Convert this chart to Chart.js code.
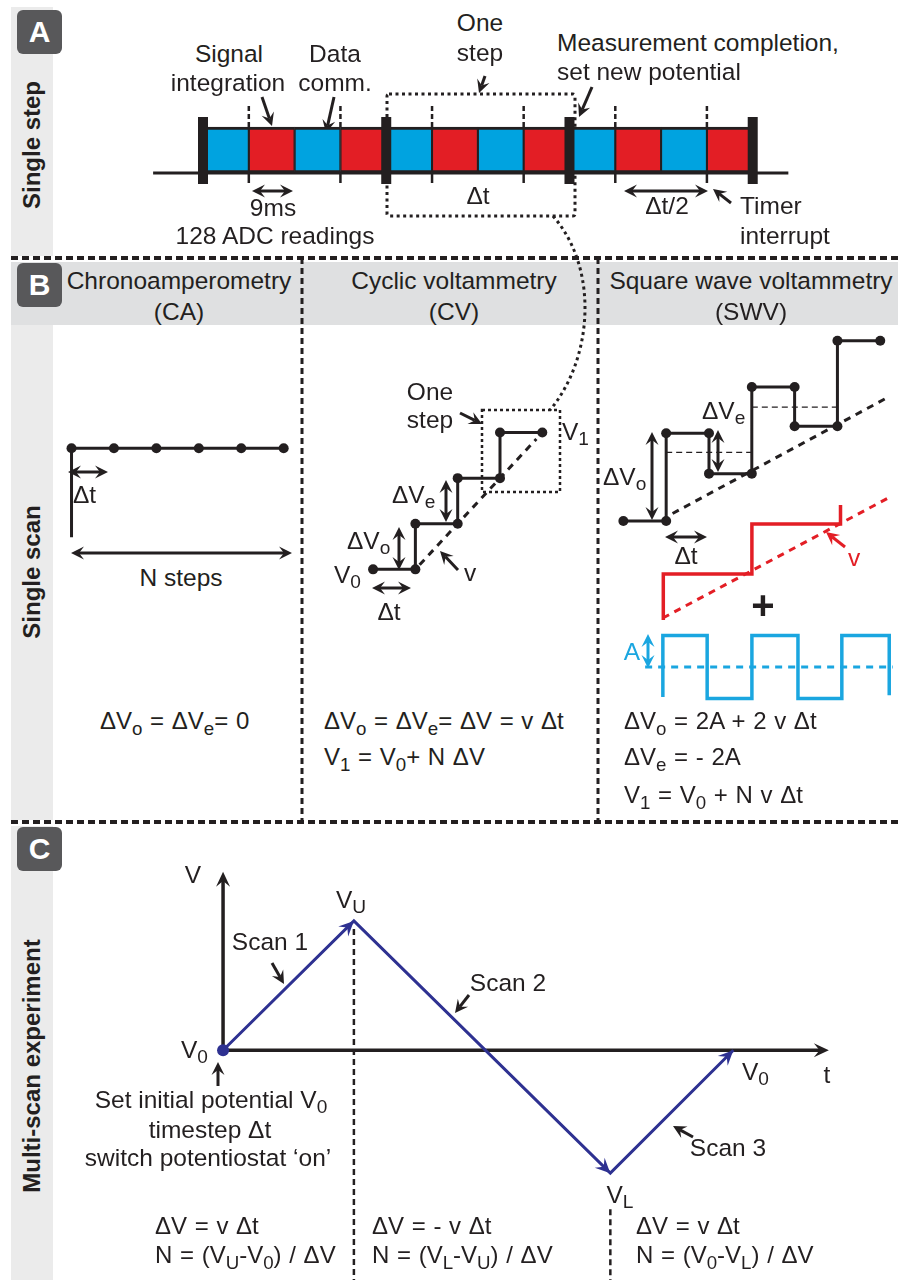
<!DOCTYPE html>
<html>
<head>
<meta charset="utf-8">
<script src="https://cdn.jsdelivr.net/npm/chart.js@4.4.1/dist/chart.umd.min.js"></script>
<style>
body{margin:0;background:#fff;}
#page{position:relative;width:898px;height:1280px;overflow:hidden;font-family:"Liberation Sans",Arial,sans-serif;color:#231f20;}
.bg{position:absolute;}
#ann{position:absolute;left:0;top:0;}
canvas{position:absolute;}
.t{position:absolute;white-space:nowrap;font-size:24.5px;line-height:1;}
.t sub{font-size:0.78em;vertical-align:-0.3em;line-height:0;}
.f{font-size:24px;word-spacing:1px;}
.side{position:absolute;font-weight:bold;font-size:24px;line-height:1;white-space:nowrap;transform:translate(-50%,-50%) rotate(-90deg);}
.box{position:absolute;width:45px;height:44px;background:#58585a;border-radius:6px;color:#fff;font-weight:bold;font-size:30px;text-align:center;line-height:44px;}
</style>
</head>
<body>
<div id="page">
  <div class="bg" style="left:11px;top:7px;width:42px;height:249px;background:#ebebeb"></div>
  <div class="bg" style="left:11px;top:262px;width:887px;height:63px;background:#dfe0e1"></div>
  <div class="bg" style="left:11px;top:325px;width:42px;height:495px;background:#ebebeb"></div>
  <div class="bg" style="left:11px;top:826px;width:42px;height:454px;background:#ebebeb"></div>
  <svg id="ann" width="898" height="1280"></svg>
  <div id="charts"></div>
  <div id="labels"></div>
  <div class="box" style="left:17px;top:10px">A</div>
  <div class="box" style="left:17px;top:263px">B</div>
  <div class="box" style="left:17px;top:827px">C</div>
  <div class="side" style="left:32px;top:145px">Single step</div>
  <div class="side" style="left:32px;top:572px">Single scan</div>
  <div class="side" style="left:32px;top:1066px">Multi-scan experiment</div>
</div>
<script>
// ---- A: readings inside the steps (ms) ----
const segColours = ['blue','red','blue','red','blue','red','blue','red','blue','red','blue','red'];
const segMs = [9,9,9,9,9,9,9,9,9,9,9,9];
const stepMs = [0,36,72,108];
const timerMs = [9,27,45,63,81,99];
const leadMs = [-9.8,115];

// ---- B: single scans (t in steps, V in arbitrary units) ----
const caT = [0,0,1,2,3,4,5];
const caV = [-2,0,0,0,0,0,0];

const cvT = [0,1,1,2,2,3,3,4];
const cvV = [0,0,1,1,2,2,3,3];
const cvRampT = [1.1,3.86];
const cvRampV = [0.1,2.86];

const swvT = [0,1,1,2,2,3,3,4,4,5,5,6];
const swvV = [0,0,3.7,3.7,2,2,5.65,5.65,4,4,7.6,7.6];
const swvMid1T = [1,3], swvMid1V = [2.9,2.9];
const swvMid2T = [3,5], swvMid2V = [4.8,4.8];
const swvRampT = [1.15,6.12], swvRampV = [0.32,5.16];

const redT = [1,1,3,3,5,5];
const redV = [0,1.85,1.85,3.87,3.87,4.64];
const redRampT = [0.99,6.12], redRampV = [0.08,4.96];

const sqT = [0.99,0.99,1.99,1.99,3,3,4.04,4.04,5.03,5.03,6.1,6.1];
const sqV = [-0.95,1,1,-1,-1,1,1,-1,-1,1,1,-0.9];
const sqMidT = [0.59,6.18], sqMidV = [0,0];

// ---- C: multi-scan ----
const cT = [0,1,2.96,3.9];
const cV = [0,1,-0.95,0];
const tAxisMax = 4.63, vAxisMax = 1.38;

const INK = '#231f20', BLUE = '#00a3e0', RED = '#e31e25', CYAN = '#1aa6e0', NAVY = '#2e3191';
const colourOf = {blue: BLUE, red: RED};

// ---------- helpers ----------
function pts(t, v) { return t.map((x, i) => ({x: x, y: v[i]})); }
function line(t, v, o) {
  return Object.assign({data: pts(t, v), showLine: true, fill: false, tension: 0, borderColor: INK,
    borderWidth: 3, pointRadius: 0, pointBackgroundColor: INK, pointBorderWidth: 0, clip: false}, o || {});
}
function addCanvas(box) {
  const c = document.createElement('canvas');
  c.width = box[2]; c.height = box[3];
  c.style.left = box[0] + 'px'; c.style.top = box[1] + 'px';
  document.getElementById('charts').appendChild(c);
  return c;
}
const quiet = {legend: {display: false}, tooltip: {enabled: false}};
// box = [left, top, width, height]; origin/unit say where value 0 sits and how many px one unit is
function place(box, xo, xu, yo, yu, datasets, plugins) {
  return new Chart(addCanvas(box), {
    type: 'scatter',
    data: {datasets: datasets},
    options: {responsive: false, animation: false, events: [], layout: {padding: 0}, plugins: quiet,
      scales: {
        x: {type: 'linear', display: false, min: (box[0] - xo) / xu, max: (box[0] + box[2] - xo) / xu},
        y: {type: 'linear', display: false, min: (yo - box[1] - box[3]) / yu, max: (yo - box[1]) / yu}
      }},
    plugins: plugins || []
  });
}
function canvasHead(ctx, x, y, ux, uy, col) {
  const L = 15, W = 7, px = -uy, py = ux;
  ctx.fillStyle = col;
  ctx.beginPath();
  ctx.moveTo(x, y);
  ctx.lineTo(x - ux * L + px * W, y - uy * L + py * W);
  ctx.lineTo(x - ux * L * 0.62, y - uy * L * 0.62);
  ctx.lineTo(x - ux * L - px * W, y - uy * L - py * W);
  ctx.closePath();
  ctx.fill();
}

// ---------- A: step timeline ----------
const timeline = {
  id: 'timeline',
  beforeDatasetsDraw(ch) {
    const ctx = ch.ctx, xs = ch.scales.x, bar = ch.getDatasetMeta(0).data[0];
    const yb = bar.y + 23;
    ctx.save();
    ctx.strokeStyle = INK; ctx.lineWidth = 3;
    ctx.beginPath();
    ctx.moveTo(xs.getPixelForValue(leadMs[0]), yb);
    ctx.lineTo(xs.getPixelForValue(leadMs[1]), yb);
    ctx.stroke();
    ctx.restore();
  },
  afterDatasetsDraw(ch) {
    const ctx = ch.ctx, xs = ch.scales.x, bar = ch.getDatasetMeta(0).data[0];
    const cy = bar.y;
    ctx.save();
    ctx.fillStyle = INK;
    stepMs.forEach(ms => { const x = xs.getPixelForValue(ms); ctx.fillRect(x - 5, cy - 33, 10, 67); });
    ctx.strokeStyle = INK; ctx.lineWidth = 2.5;
    timerMs.forEach(ms => {
      const x = xs.getPixelForValue(ms);
      ctx.setLineDash([5, 3]);
      ctx.beginPath(); ctx.moveTo(x, cy - 44); ctx.lineTo(x, cy - 23); ctx.stroke();
      ctx.setLineDash([]);
      ctx.beginPath(); ctx.moveTo(x, cy + 23); ctx.lineTo(x, cy + 33); ctx.stroke();
    });
    ctx.restore();
  }
};
(function () {
  const box = [140, 95, 660, 110], xo = 203, xu = 5.09;
  new Chart(addCanvas(box), {
    type: 'bar',
    data: {labels: ['run'], datasets: segMs.map((ms, i) => ({
      data: [ms], backgroundColor: colourOf[segColours[i]], borderColor: INK,
      borderWidth: {top: 3, bottom: 3, left: 1.4, right: 1.4}, borderSkipped: false, barThickness: 46
    }))},
    options: {indexAxis: 'y', responsive: false, animation: false, events: [], layout: {padding: 0}, plugins: quiet,
      scales: {
        x: {stacked: true, display: false, min: (box[0] - xo) / xu, max: (box[0] + box[2] - xo) / xu},
        y: {stacked: true, display: false}
      }},
    plugins: [timeline]
  });
})();

// ---------- B: CA ----------
place([55, 420, 250, 140], 67, 44.2, 445, 48, [
  line(caT, caV, {pointRadius: caT.map((t, i) => i === 0 ? 0 : 5)})
]);

// ---------- B: CV ----------
place([320, 400, 260, 200], 370, 44, 573, 48, [
  line(cvRampT, cvRampV, {borderWidth: 3, borderDash: [7, 6]}),
  line(cvT, cvV, {pointRadius: 5})
]);

// ---------- B: SWV ----------
place([600, 320, 298, 230], 619, 44.3, 525, 24.8, [
  line(swvMid1T, swvMid1V, {borderWidth: 1.2, borderDash: [6, 4]}),
  line(swvMid2T, swvMid2V, {borderWidth: 1.2, borderDash: [6, 4]}),
  line(swvRampT, swvRampV, {borderWidth: 3, borderDash: [7, 6]}),
  line(swvT, swvV, {pointRadius: 5})
]);
place([600, 480, 298, 160], 619, 44.3, 620, 24.8, [
  line(redRampT, redRampV, {borderColor: RED, borderWidth: 3, borderDash: [7, 6]}),
  line(redT, redV, {borderColor: RED, borderWidth: 3.5})
]);
place([600, 615, 298, 100], 619, 44.3, 667, 31.5, [
  line(sqMidT, sqMidV, {borderColor: CYAN, borderWidth: 3, borderDash: [7, 6]}),
  line(sqT, sqV, {borderColor: CYAN, borderWidth: 3.5})
]);

// ---------- C: multi-scan ----------
const scanAxes = {
  id: 'scanAxes',
  beforeDatasetsDraw(ch) {
    const ctx = ch.ctx, x = ch.scales.x, y = ch.scales.y;
    const x0 = x.getPixelForValue(0), y0 = y.getPixelForValue(0);
    const xe = x.getPixelForValue(tAxisMax), ye = y.getPixelForValue(vAxisMax);
    ctx.save();
    ctx.strokeStyle = INK; ctx.lineWidth = 3.5;
    ctx.beginPath();
    ctx.moveTo(x0, y0); ctx.lineTo(xe - 8, y0);
    ctx.moveTo(x0, y0); ctx.lineTo(x0, ye + 8);
    ctx.stroke();
    canvasHead(ctx, xe, y0, 1, 0, INK);
    canvasHead(ctx, x0, ye, 0, -1, INK);
    ctx.lineWidth = 2.5; ctx.setLineDash([6, 4]);
    const xu = x.getPixelForValue(cT[1]), xl = x.getPixelForValue(cT[2]);
    ctx.beginPath();
    ctx.moveTo(xu, y.getPixelForValue(cV[1]) + 8); ctx.lineTo(xu, ch.height);
    ctx.moveTo(xl, y.getPixelForValue(cV[2]) + 36); ctx.lineTo(xl, ch.height);
    ctx.stroke();
    ctx.restore();
  },
  afterDatasetsDraw(ch) {
    const ctx = ch.ctx, pts = ch.getDatasetMeta(0).data;
    ctx.save();
    for (let i = 1; i < pts.length; i++) {
      const dx = pts[i].x - pts[i - 1].x, dy = pts[i].y - pts[i - 1].y, d = Math.hypot(dx, dy);
      canvasHead(ctx, pts[i].x, pts[i].y, dx / d, dy / d, NAVY);
    }
    ctx.restore();
  }
};
place([160, 840, 738, 440], 218, 133, 1050, 133, [
  line(cT, cV, {borderColor: NAVY, borderWidth: 3, pointRadius: cT.map((t, i) => i === 0 ? 6 : 0),
    pointBackgroundColor: NAVY})
], [scanAxes]);

// ---------- frame, arrows, boxes (svg) ----------
const svg = document.getElementById('ann');
function el(name, attrs) {
  const e = document.createElementNS('http://www.w3.org/2000/svg', name);
  for (const k in attrs) e.setAttribute(k, attrs[k]);
  svg.appendChild(e);
  return e;
}
function head(x, y, ux, uy, col) {
  const L = 13, W = 6.5, px = -uy, py = ux;
  const p = [[x, y], [x - ux * L + px * W, y - uy * L + py * W], [x - ux * L * 0.62, y - uy * L * 0.62],
    [x - ux * L - px * W, y - uy * L - py * W]];
  el('polygon', {points: p.map(q => q.join(',')).join(' '), fill: col});
}
function arrow(x1, y1, x2, y2, both, col) {
  col = col || INK;
  const d = Math.hypot(x2 - x1, y2 - y1), ux = (x2 - x1) / d, uy = (y2 - y1) / d, s = both ? 8 : 0;
  el('line', {x1: x1 + ux * s, y1: y1 + uy * s, x2: x2 - ux * 8, y2: y2 - uy * 8, stroke: col, 'stroke-width': 3});
  head(x2, y2, ux, uy, col);
  if (both) head(x1, y1, -ux, -uy, col);
}
// dashed frame
[[11, 258, 898, 258], [11, 822, 898, 822]].forEach(l =>
  el('line', {x1: l[0], y1: l[1], x2: l[2], y2: l[3], stroke: INK, 'stroke-width': 4, 'stroke-dasharray': '7 4'}));
[[302, 258, 302, 822], [598, 258, 598, 822]].forEach(l =>
  el('line', {x1: l[0], y1: l[1], x2: l[2], y2: l[3], stroke: INK, 'stroke-width': 3, 'stroke-dasharray': '6 4'}));
// dotted "one step" boxes and the link between them
el('rect', {x: 387, y: 94, width: 188, height: 122, rx: 2, fill: 'none', stroke: INK, 'stroke-width': 3, 'stroke-dasharray': '3 3.5'});
el('rect', {x: 482, y: 410, width: 78, height: 82, fill: 'none', stroke: INK, 'stroke-width': 2.5, 'stroke-dasharray': '3 3'});
el('path', {d: 'M553,216 C600,270 592,360 550,410', fill: 'none', stroke: INK, 'stroke-width': 3, 'stroke-dasharray': '3 3.5'});

[
  [262, 97, 272, 126], [334, 97, 326, 133], [252, 191, 293, 191, true], [485, 76, 479, 93],
  [592, 87, 579, 117], [624, 191, 708, 191, true], [731, 203, 713, 189],
  [68, 472, 108, 472, true], [71, 553, 292, 553, true],
  [460, 413, 482, 424], [446, 480, 446, 522, true], [399, 527, 399, 570, true],
  [372, 588, 411, 588, true], [458, 570, 440, 551],
  [652, 432, 652, 520, true], [718, 430, 718, 472, true], [665, 537, 707, 537, true],
  [845, 547, 826, 532, false, RED], [648, 634, 648, 668, true, CYAN],
  [272, 963, 284, 984], [469, 995, 455, 1013], [218, 1086, 218, 1062], [693, 1137, 673, 1126]
].forEach(a => arrow(a[0], a[1], a[2], a[3], a[4], a[5]));

// ---------- text ----------
const labels = document.getElementById('labels');
function lab(html, x, y, align, cls, style) {
  const d = document.createElement('div');
  d.className = 't' + (cls ? ' ' + cls : '');
  d.innerHTML = html;
  d.style.left = x + 'px'; d.style.top = y + 'px';
  const tx = align === 'l' ? '0' : align === 'r' ? '-100%' : '-50%';
  d.style.transform = 'translate(' + tx + ',-50%)';
  if (style) d.style.cssText += style;
  labels.appendChild(d);
}
// A
lab('Signal', 229, 54); lab('integration', 228, 83);
lab('Data', 335, 54); lab('comm.', 335, 83);
lab('One', 480, 23); lab('step', 480, 53);
lab('Measurement completion,', 557, 43, 'l'); lab('set new potential', 557, 72, 'l');
lab('9ms', 273, 208); lab('128 ADC readings', 275, 236);
lab('Δt', 478, 196); lab('Δt/2', 667, 206);
lab('Timer', 740, 206, 'l'); lab('interrupt', 740, 236, 'l');
// B headers
lab('Chronoamperometry', 179, 281); lab('(CA)', 179, 312);
lab('Cyclic voltammetry', 454, 281); lab('(CV)', 454, 312);
lab('Square wave voltammetry', 751, 281); lab('(SWV)', 751, 312);
// CA
lab('Δt', 73, 495, 'l'); lab('N steps', 181, 578);
// CV
lab('One', 430, 392); lab('step', 430, 420);
lab('V<sub>1</sub>', 562, 432, 'l');
lab('ΔV<sub>e</sub>', 392, 495, 'l'); lab('ΔV<sub>o</sub>', 347, 541, 'l');
lab('V<sub>0</sub>', 361, 575, 'r'); lab('Δt', 389, 612); lab('v', 470, 573);
// SWV
lab('ΔV<sub>o</sub>', 603, 477, 'l'); lab('ΔV<sub>e</sub>', 702, 411, 'l');
lab('Δt', 686, 556); lab('v', 854, 558, 'c', '', 'color:' + RED);
lab('+', 763, 605, 'c', '', 'font-size:40px;font-weight:bold');
lab('A', 632, 652, 'c', '', 'color:' + CYAN);
// B formulas
lab('ΔV<sub>o</sub> = ΔV<sub>e</sub>= 0', 100, 721, 'l', 'f');
lab('ΔV<sub>o</sub> = ΔV<sub>e</sub>= ΔV = v Δt', 324, 721, 'l', 'f');
lab('V<sub>1</sub> = V<sub>0</sub>+ N ΔV', 324, 757, 'l', 'f');
lab('ΔV<sub>o</sub> = 2A + 2 v Δt', 624, 721, 'l', 'f');
lab('ΔV<sub>e</sub> = - 2A', 624, 757, 'l', 'f');
lab('V<sub>1</sub> = V<sub>0</sub> + N v Δt', 624, 795, 'l', 'f');
// C
lab('V', 193, 875); lab('V<sub>U</sub>', 351, 900);
lab('Scan 1', 270, 942); lab('Scan 2', 508, 983); lab('Scan 3', 728, 1148);
lab('V<sub>0</sub>', 208, 1050, 'r');
lab('Set initial potential V<sub>0</sub>', 211, 1100);
lab('timestep Δt', 210, 1130);
lab('switch potentiostat ‘on’', 208, 1158);
lab('V<sub>0</sub>', 742, 1072, 'l'); lab('t', 827, 1075); lab('V<sub>L</sub>', 620, 1195);
lab('ΔV = v Δt', 155, 1226, 'l', 'f'); lab('N = (V<sub>U</sub>-V<sub>0</sub>) / ΔV', 155, 1255, 'l', 'f');
lab('ΔV = - v Δt', 372, 1226, 'l', 'f'); lab('N = (V<sub>L</sub>-V<sub>U</sub>) / ΔV', 372, 1255, 'l', 'f');
lab('ΔV = v Δt', 636, 1226, 'l', 'f'); lab('N = (V<sub>0</sub>-V<sub>L</sub>) / ΔV', 636, 1255, 'l', 'f');
</script>
</body>
</html>
